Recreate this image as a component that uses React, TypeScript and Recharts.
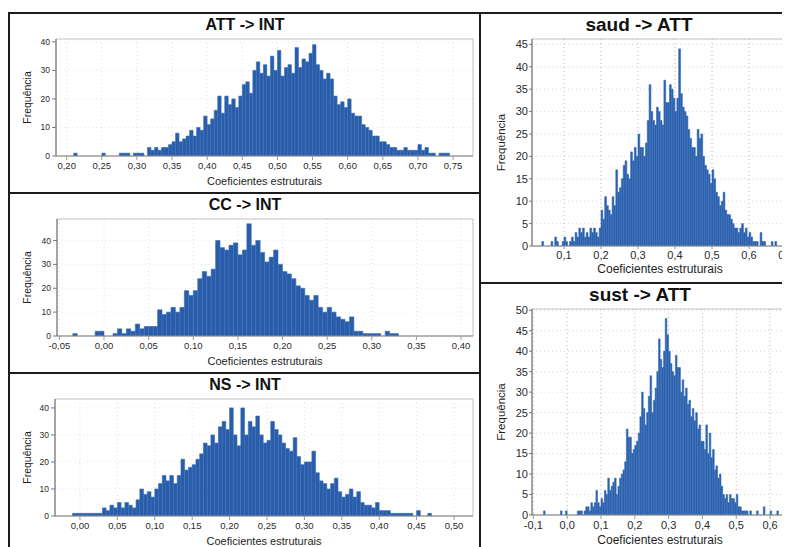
import { BarChart, Bar, XAxis, YAxis, CartesianGrid, ReferenceArea } from 'recharts'

const BIN = 0.005

const attStart = 0.2
const attCounts = [
  0, 0, 1, 0, 0, 0, 0, 0, 0, 0,
  1, 0, 0, 0, 0, 1, 1, 1, 0, 1,
  1, 1, 0, 3, 2, 3, 2, 3, 3, 4,
  5, 8, 5, 6, 7, 9, 7, 10, 9, 14,
  11, 13, 16, 21, 15, 21, 18, 20, 17, 21,
  25, 26, 22, 30, 33, 29, 32, 28, 35, 30,
  37, 28, 31, 32, 29, 38, 31, 34, 33, 36,
  39, 32, 30, 27, 29, 27, 21, 18, 19, 17,
  20, 15, 14, 14, 11, 10, 9, 7, 7, 5,
  5, 4, 3, 3, 2, 2, 3, 2, 2, 2,
  4, 2, 3, 1, 1, 0, 1, 1, 1, 0,
]

const ccStart = -0.05
const ccCounts = [
  0, 0, 0, 1, 0, 0, 0, 0, 2, 2,
  0, 0, 1, 3, 1, 3, 2, 5, 3, 4,
  4, 4, 11, 9, 10, 12, 10, 12, 19, 17,
  19, 24, 27, 25, 28, 40, 37, 36, 38, 39,
  34, 36, 47, 38, 40, 35, 31, 33, 36, 30,
  27, 26, 24, 21, 20, 17, 15, 17, 12, 10,
  12, 10, 8, 7, 6, 8, 2, 2, 1, 1,
  1, 1, 0, 2, 1, 1,
]

const nsStart = -0.01
const nsCounts = [
  1, 1, 1, 1, 1, 1, 1, 1, 3, 2,
  4, 3, 5, 3, 5, 4, 3, 6, 10, 8,
  9, 7, 10, 12, 15, 13, 15, 12, 15, 21,
  17, 18, 19, 21, 23, 27, 26, 30, 27, 33,
  35, 32, 40, 30, 26, 40, 30, 35, 33, 37,
  30, 27, 28, 35, 32, 30, 27, 25, 24, 29,
  22, 19, 20, 20, 24, 16, 13, 12, 10, 12,
  14, 9, 7, 8, 10, 7, 9, 5, 4, 4,
  3, 5, 2, 2, 2, 1, 1, 1, 1, 1,
  1, 0, 2, 0, 0, 1,
]

const saudStart = 0.04
const saudCounts = [
  1, 0, 0, 0, 0, 1, 0, 2, 1, 0,
  0, 1, 2, 1, 0, 1, 2, 1, 3, 2,
  4, 3, 4, 2, 3, 2, 4, 3, 4, 3,
  2, 4, 8, 6, 11, 9, 8, 7, 11, 9,
  17, 12, 13, 15, 18, 19, 16, 15, 21, 19,
  22, 20, 25, 22, 22, 20, 23, 28, 36, 30,
  28, 27, 31, 30, 28, 27, 37, 32, 32, 36,
  35, 33, 30, 33, 44, 34, 31, 30, 29, 26,
  24, 22, 22, 20, 26, 24, 25, 20, 18, 17,
  16, 14, 17, 15, 12, 11, 9, 10, 12, 8,
  7, 7, 6, 5, 4, 4, 3, 4, 5, 3,
  4, 2, 3, 2, 1, 1, 1, 0, 3, 1,
  1, 0, 0, 0, 1, 0, 1,
]

const sustStart = -0.07
const sustCounts = [
  1, 0, 0, 0, 0, 0, 0, 0, 0, 0,
  1, 0, 0, 1, 0, 0, 0, 0, 0, 0,
  1, 1, 1, 0, 1, 2, 2, 1, 3, 2,
  3, 6, 3, 2, 4, 3, 6, 5, 9, 6,
  7, 8, 9, 5, 7, 9, 10, 11, 13, 21,
  19, 19, 15, 16, 17, 18, 20, 24, 30, 26,
  22, 25, 29, 34, 25, 28, 31, 35, 43, 38,
  36, 40, 48, 44, 40, 37, 35, 34, 39, 36,
  36, 30, 33, 29, 31, 27, 28, 24, 26, 23,
  25, 21, 22, 18, 18, 16, 22, 15, 20, 14,
  16, 11, 12, 9, 10, 7, 5, 4, 5, 3,
  5, 4, 4, 3, 5, 2, 2, 1, 1, 1,
  1, 0, 1, 0, 0, 0, 1, 0, 0, 0,
  2, 0, 0, 0, 1, 0, 0, 0, 1,
]

const attTicks = [0.2, 0.25, 0.3, 0.35, 0.4, 0.45, 0.5, 0.55, 0.6, 0.65, 0.7, 0.75]
const ccTicks = [-0.05, 0, 0.05, 0.1, 0.15, 0.2, 0.25, 0.3, 0.35, 0.4]
const nsTicks = [0, 0.05, 0.1, 0.15, 0.2, 0.25, 0.3, 0.35, 0.4, 0.45, 0.5]
const saudTicks = [0.1, 0.2, 0.3, 0.4, 0.5, 0.6, 0.7]
const sustTicks = [-0.1, 0, 0.1, 0.2, 0.3, 0.4, 0.5, 0.6]
const leftYTicks = [0, 10, 20, 30, 40]
const saudYTicks = [0, 5, 10, 15, 20, 25, 30, 35, 40, 45]
const sustYTicks = [0, 5, 10, 15, 20, 25, 30, 35, 40, 45, 50]

const toBins = (start: number, counts: number[]) =>
  counts.map((n, i) => ({ x: +(start + (i + 0.5) * BIN).toFixed(5), n }))

const FONT = '"Liberation Sans", Arial, sans-serif'
const BAR = '#2b5ca9'
const BAR_EDGE = '#3570b9'
const OFF = 8 // body margin
const YW = 50
const XH = 34

function XTitle({ viewBox, text, dy, size }: any) {
  const x = viewBox.x + viewBox.width / 2
  const y = viewBox.y + dy
  return (
    <text x={x} y={y} textAnchor="middle" dominantBaseline="central" fontSize={size} fill="#1e1e1e" fontFamily={FONT}>
      {text}
    </text>
  )
}

function YTitle({ viewBox, text, dx, size }: any) {
  const x = viewBox.x + dx
  const y = viewBox.y + viewBox.height / 2
  return (
    <text x={x} y={y} textAnchor="middle" dominantBaseline="central" transform={`rotate(-90 ${x} ${y})`}
      fontSize={size} fill="#1e1e1e" fontFamily={FONT}>
      {text}
    </text>
  )
}

interface HistProps {
  title: string
  titleX: number
  titleY: number
  titleSize: number
  data: { x: number; n: number }[]
  plot: [number, number, number, number] // left, top, right, bottom in page px
  xDomain: [number, number]
  xTicks: number[]
  decimals: number
  yMax: number
  yTicks: number[]
  yLabelX: number
  xLabelDy: number
  tickFont: number
  yTickFont: number
  labelFont: number
  tickGap: number
  right?: boolean
}

function Histogram(p: HistProps) {
  const [L, T, R, B] = p.plot
  const width = YW + (R - L) + 5
  const height = 5 + (B - T) + XH
  // just under the band so recharts does not shrink it to 90%; the stroke closes the seams
  const barSize = ((R - L) / (p.xDomain[1] - p.xDomain[0])) * BIN - 0.05
  const fmt = (v: number) => v.toFixed(p.decimals).replace('.', ',')
  return (
    <>
      <div
        style={{
          position: 'absolute',
          left: p.titleX - 120 - OFF,
          top: p.titleY - 12 - OFF,
          width: 240,
          height: 24,
          lineHeight: '24px',
          textAlign: 'center',
          fontFamily: FONT,
          fontWeight: 'bold',
          fontSize: p.titleSize,
          color: '#111',
        }}
      >
        {p.title}
      </div>
      <div style={{ position: 'absolute', left: L - YW - OFF, top: T - 5 - OFF }}>
        <BarChart width={width} height={height} data={p.data} margin={{ top: 5, right: 5, left: 0, bottom: 0 }} barGap={0} barCategoryGap={0}>
          <CartesianGrid vertical={false} stroke={p.right ? '#d8d8d8' : '#e6e6e6'} strokeDasharray="1 3" />
          <CartesianGrid horizontal={false} stroke={p.right ? '#b5b5b5' : '#e0e0e0'} strokeDasharray="1 3" />
          <ReferenceArea x1={p.xDomain[0]} x2={p.xDomain[1]} y1={0} y2={p.yMax} fill="none" stroke="#c4c4c4" strokeWidth={1} />
          <XAxis
            type="number"
            dataKey="x"
            domain={p.xDomain}
            allowDataOverflow
            ticks={p.xTicks}
            tickFormatter={fmt}
            interval={0}
            height={XH}
            tickSize={p.tickGap}
            tickMargin={2}
            tick={{ fontSize: p.tickFont, fill: '#2a2a2a', fontFamily: FONT }}
            axisLine={{ stroke: '#8a8a8a' }}
            tickLine={{ stroke: '#9a9a9a' }}
            label={<XTitle text="Coeficientes estruturais" dy={p.xLabelDy} size={p.labelFont} />}
          />
          <YAxis
            type="number"
            domain={[0, p.yMax]}
            allowDataOverflow
            ticks={p.yTicks}
            interval={0}
            width={YW}
            tickSize={p.right ? 3 : 4}
            tickMargin={p.right ? 1 : 2}
            tick={{ fontSize: p.yTickFont, fill: '#2a2a2a', fontFamily: FONT }}
            axisLine={{ stroke: '#6a6a6a' }}
            tickLine={{ stroke: '#7a7a7a' }}
            label={<YTitle text="Frequência" dx={p.yLabelX - (L - YW)} size={p.labelFont - 0.5} />}
          />
          <Bar dataKey="n" fill={BAR} stroke={BAR_EDGE} strokeWidth={0.6} barSize={barSize} isAnimationActive={false} />
        </BarChart>
      </div>
    </>
  )
}

function Line({ x, y, w, h }: { x: number; y: number; w: number; h: number }) {
  return <div style={{ position: 'absolute', left: x - OFF, top: y - OFF, width: w, height: h, background: '#1c1c1c' }} />
}

export default function App() {
  return (
    <div style={{ position: 'relative', width: 782, height: 539, overflow: 'hidden', background: '#fff' }}>
      <Histogram
        title="ATT -> INT" titleX={245} titleY={25} titleSize={16}
        data={toBins(attStart, attCounts)}
        plot={[56, 39, 473, 156]} xDomain={[0.1848, 0.7784]} xTicks={attTicks} decimals={2}
        yMax={41} yTicks={leftYTicks} yLabelX={27} xLabelDy={25}
        tickFont={9.5} yTickFont={8.5} labelFont={11} tickGap={4}
      />
      <Histogram
        title="CC -> INT" titleX={245} titleY={205} titleSize={16}
        data={toBins(ccStart, ccCounts)}
        plot={[57, 219, 473, 336]} xDomain={[-0.0527, 0.4134]} xTicks={ccTicks} decimals={2}
        yMax={49} yTicks={leftYTicks} yLabelX={27} xLabelDy={25}
        tickFont={9.5} yTickFont={8.5} labelFont={11} tickGap={4}
      />
      <Histogram
        title="NS -> INT" titleX={245} titleY={385} titleSize={16}
        data={toBins(nsStart, nsCounts)}
        plot={[55, 399, 473, 516]} xDomain={[-0.0334, 0.5254]} xTicks={nsTicks} decimals={2}
        yMax={43.3} yTicks={leftYTicks} yLabelX={27} xLabelDy={25}
        tickFont={9.5} yTickFont={8.5} labelFont={11} tickGap={4}
      />
      <Histogram
        title="saud -> ATT" titleX={639} titleY={25} titleSize={19}
        data={toBins(saudStart, saudCounts)}
        plot={[532, 39, 788, 246]} xDomain={[0.0135, 0.7054]} xTicks={saudTicks} decimals={1}
        yMax={46.2} yTicks={saudYTicks} yLabelX={501} xLabelDy={23}
        tickFont={11} yTickFont={11} labelFont={12} tickGap={3} right
      />
      <Histogram
        title="sust -> ATT" titleX={640} titleY={295} titleSize={19}
        data={toBins(sustStart, sustCounts)}
        plot={[532, 309, 788, 515]} xDomain={[-0.104, 0.653]} xTicks={sustTicks} decimals={1}
        yMax={50.3} yTicks={sustYTicks} yLabelX={501} xLabelDy={25}
        tickFont={11} yTickFont={11} labelFont={12} tickGap={4} right
      />
      {/* panel frames */}
      <Line x={8} y={12} w={782} h={2} />
      <Line x={8} y={12} w={2} h={535} />
      <Line x={479} y={12} w={2} h={535} />
      <Line x={8} y={192} w={473} h={2} />
      <Line x={8} y={372} w={473} h={2} />
      <Line x={479} y={282} w={311} h={2} />
    </div>
  )
}
